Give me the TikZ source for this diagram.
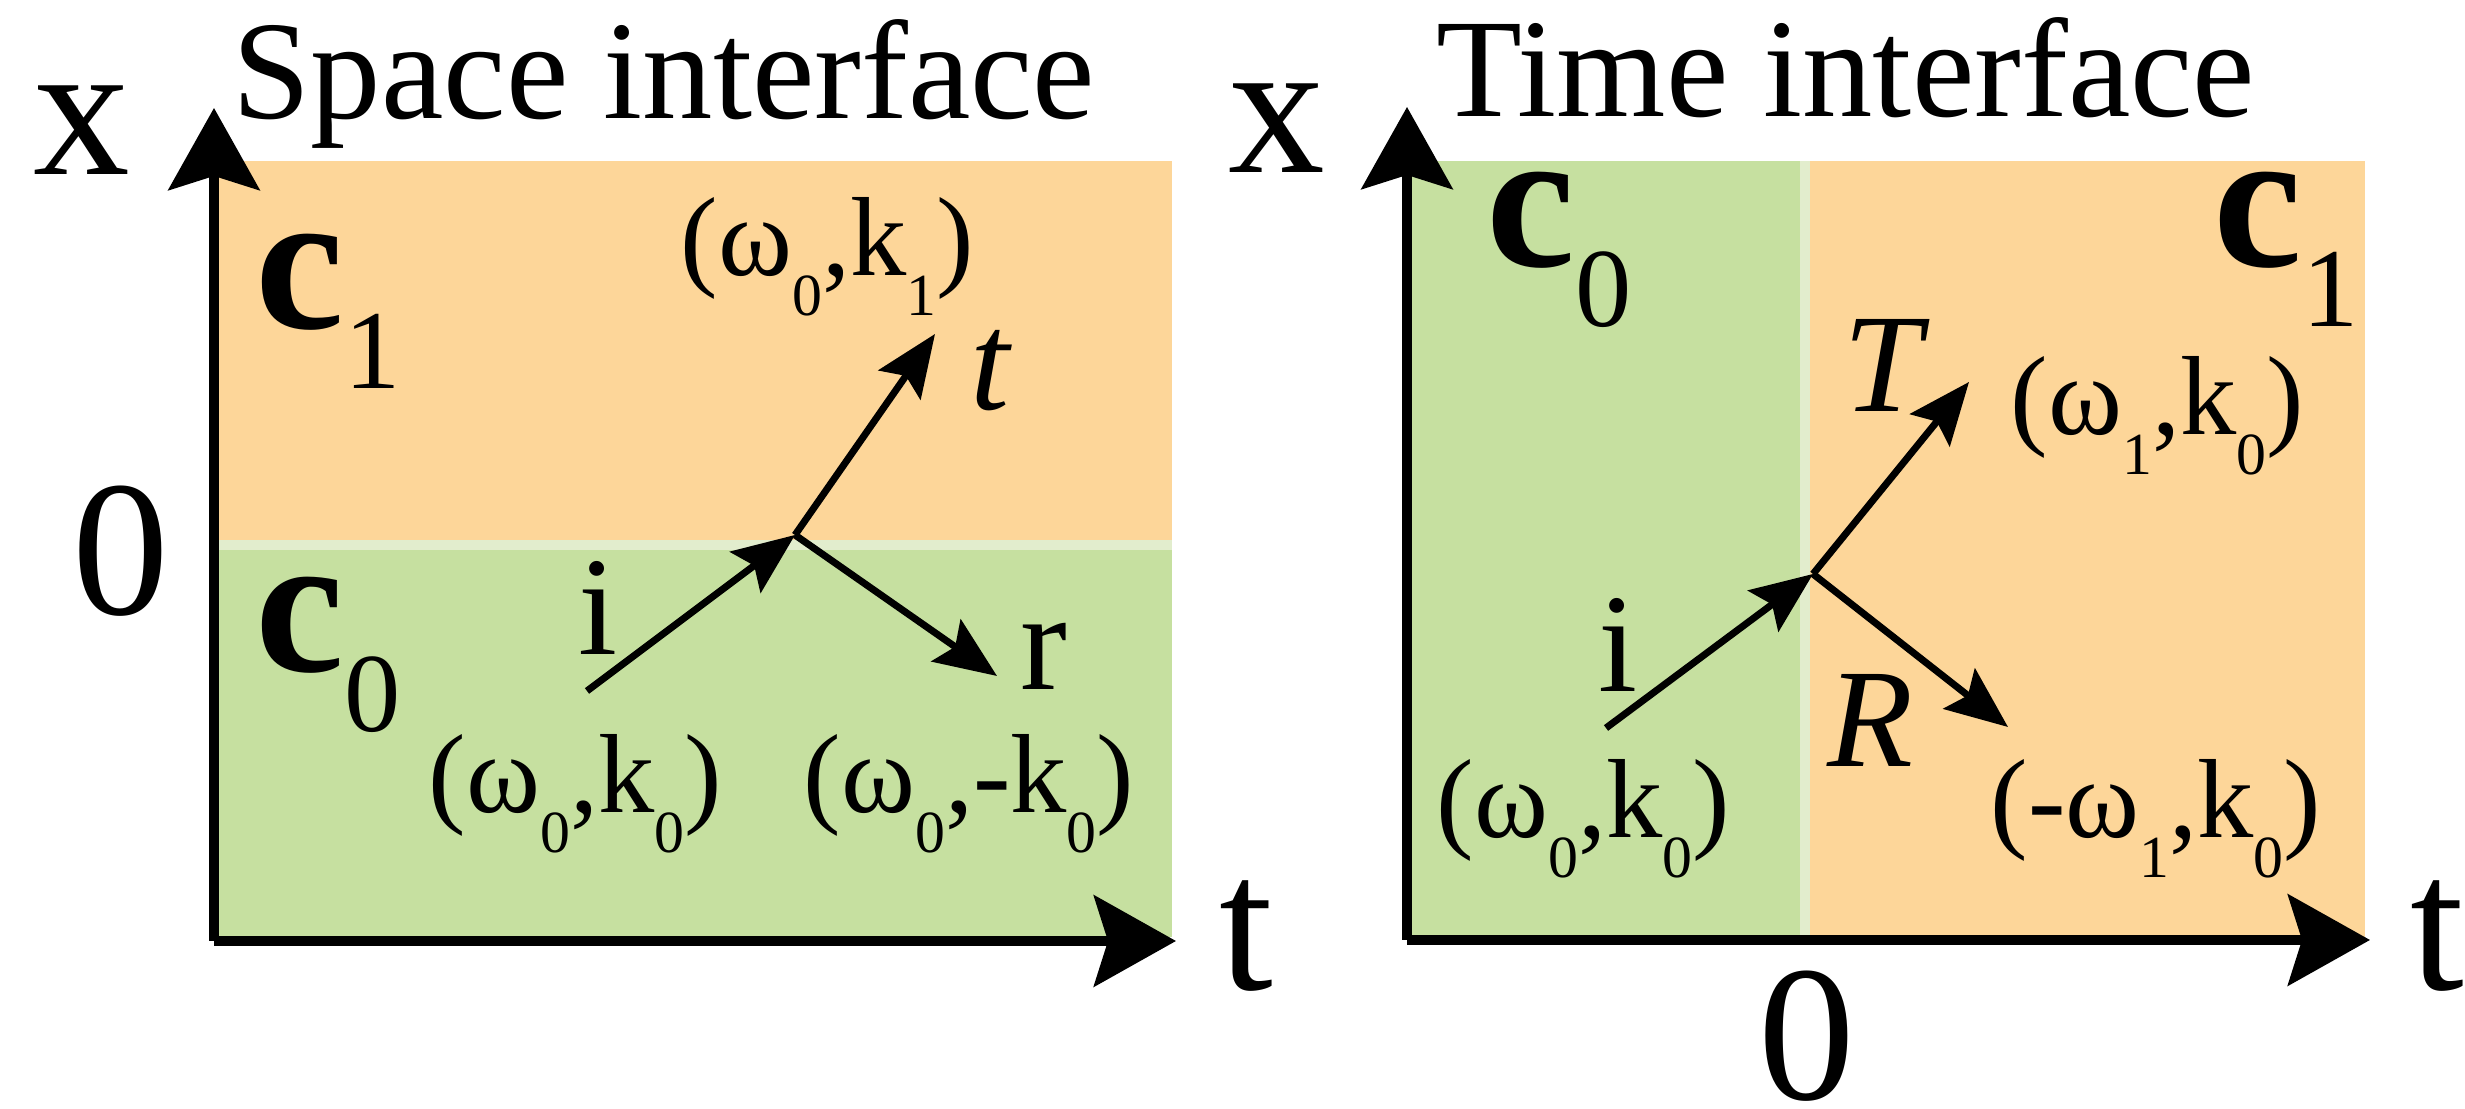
\documentclass[tikz,border=0pt]{standalone}
\usepackage{fontspec}
\setmainfont{Liberation Serif}
\usetikzlibrary{positioning, arrows.meta}
\definecolor{zone-orange}{HTML}{FDD699}
\definecolor{zone-green}{HTML}{C6E0A0}
\definecolor{zone-seam}{HTML}{E2EDCD}
\newcommand{\wsub}[1]{\raisebox{-0.40cm}{\fontsize{17}{17}\selectfont #1}}
\newcommand{\msub}[1]{\raisebox{-0.6cm}{\fontsize{32}{32}\selectfont #1}}

\begin{document}
\begin{tikzpicture}[
    axis/.style={-{Stealth[length=8.2mm, width=9.1mm, inset=1.4mm]}, line width=1mm},
    wave/.style={-{Stealth[length=6.2mm, width=5.1mm, inset=1.1mm]}, line width=0.7mm},
    ttl/.style={font=\fontsize{40}{48}\selectfont, anchor=base, inner sep=0},
    axlbl/.style={font=\fontsize{55}{66}\selectfont, anchor=base, inner sep=0},
    medium/.style={font=\fontsize{57}{68}\selectfont, anchor=base west, inner sep=0},
    pair/.style={font=\fontsize{32}{38}\selectfont, anchor=base west, inner sep=0},
    wlbl/.style={font=\fontsize{40}{48}\selectfont, anchor=base west, inner sep=0},
]
    \useasboundingbox (0,0) rectangle (24.65,11.09);

    % Space interface: media
    \fill[zone-orange] (2.19,9.48) rectangle (11.72,5.69);
    \fill[zone-seam] (2.19,5.69) rectangle (11.72,5.59);
    \fill[zone-green] (2.19,5.59) rectangle (11.72,1.72);

    % Time interface: media
    \fill[zone-green] (14.12,9.48) rectangle (18.00,1.72);
    \fill[zone-seam] (18.00,9.48) rectangle (18.10,1.72);
    \fill[zone-orange] (18.10,9.48) rectangle (23.65,1.72);

    % Axes
    \coordinate (o1) at (2.14,1.68);
    \coordinate (xtip1) at (2.14,10.01);
    \coordinate (ttip1) at (11.76,1.68);
    \draw[axis] (o1) -- (xtip1);
    \draw[axis] (o1) -- (ttip1);

    \coordinate (o2) at (14.07,1.69);
    \coordinate (xtip2) at (14.07,10.02);
    \coordinate (ttip2) at (23.70,1.69);
    \draw[axis] (o2) -- (xtip2);
    \draw[axis] (o2) -- (ttip2);

    % Axis labels and titles
    \node[ttl] (title1) at (6.64,9.90) {Space interface};
    \node[ttl] (title2) at (18.46,9.92) {Time interface};
    \node[axlbl] (xlab1) at (0.82,9.34) {x};
    \node[axlbl] (xlab2) at (12.77,9.36) {x};
    \node[axlbl] (tlab1) at (12.46,1.19) {t};
    \node[axlbl] (tlab2) at (24.37,1.19) {t};
    \node[axlbl] (zero1) at (1.21,4.94) {0};
    \node[axlbl] (zero2) at (18.07,0.09) {0};

    % Media labels
    \node[medium] (c1a) at (2.55,7.80) {\textbf{c}\msub{1}};
    \node[medium] (c0a) at (2.55,4.37) {\textbf{c}\msub{0}};
    \node[medium] (c0b) at (14.86,8.42) {\textbf{c}\msub{0}};
    \node[medium] (c1b) at (22.13,8.42) {\textbf{c}\msub{1}};

    % Waves at the space interface
    \coordinate (j1) at (7.95,5.74);
    \coordinate (inc1) at (5.87,4.18);
    \coordinate (trans1) at (9.35,7.75);
    \coordinate (refl1) at (9.97,4.33);
    \draw[wave] (inc1) -- (j1);
    \draw[wave] (j1) -- (trans1);
    \draw[wave] (j1) -- (refl1);
    \node[wlbl] (ilab1) at (5.78,4.54) {i};
    \node[wlbl] (tlab) at (9.70,6.99) {\itshape t};
    \node[wlbl] (rlab) at (10.20,4.19) {r};
    \node[pair] (p1) at (6.80,8.33) {(ω\wsub{0},k\wsub{1})};
    \node[pair] (p2) at (4.28,2.96) {(ω\wsub{0},k\wsub{0})};
    \node[pair] (p3) at (8.03,2.96) {(ω\wsub{0},-k\wsub{0})};

    % Waves at the time interface
    \coordinate (j2) at (18.13,5.35);
    \coordinate (inc2) at (16.06,3.81);
    \coordinate (trans2) at (19.69,7.27);
    \coordinate (refl2) at (20.08,3.82);
    \draw[wave] (inc2) -- (j2);
    \draw[wave] (j2) -- (trans2);
    \draw[wave] (j2) -- (refl2);
    \node[wlbl] (ilab2) at (15.98,4.17) {i};
    \node[wlbl] (Tlab) at (18.43,6.97) {\itshape T};
    \node[wlbl] (Rlab) at (18.27,3.42) {\itshape R};
    \node[pair] (q1) at (20.10,6.74) {(ω\wsub{1},k\wsub{0})};
    \node[pair] (q2) at (14.36,2.71) {(ω\wsub{0},k\wsub{0})};
    \node[pair] (q3) at (19.90,2.71) {(-ω\wsub{1},k\wsub{0})};

\end{tikzpicture}
\end{document}
